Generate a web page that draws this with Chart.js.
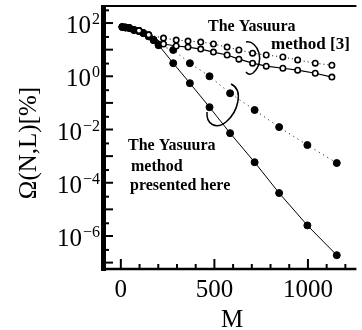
<!DOCTYPE html>
<html>
<head>
<meta charset="utf-8">
<script src="https://cdn.jsdelivr.net/npm/chart.js@4.4.0/dist/chart.umd.min.js"></script>
<style>
html, body { margin: 0; padding: 0; background: #fff; }
</style>
</head>
<body>
<canvas id="canvas" width="362" height="330"></canvas>
<script>
// M values and Omega(N,L) [%]
const mFilled = [8, 25, 45, 70, 97, 120, 149, 175, 202, 280, 369, 474, 584, 715, 846, 997, 1154];
const filledDotted = [71, 68, 65, 55, 50, 42, 32, 23, 14.8, 9.7, 3.1, 1.0, 0.23, 0.054, 0.0123, 2.6e-3, 5.5e-4];
const filledSolid = [71, 68, 65, 55, 50, 42, 32, 23, 14.8, 3.1, 0.55, 0.069, 7.3e-3, 5.9e-4, 4.1e-5, 2.5e-6, 1.9e-7];

const mOpen = [97, 149, 228, 296, 359, 427, 495, 568, 631, 704, 777, 866, 945, 1039, 1128];
const openDotted = [52, 36, 27.3, 23.0, 21.0, 19.3, 16.3, 12.5, 9.7, 7.4, 6.3, 5.3, 4.1, 3.1, 2.6];
const openSolid = [52, 36, 16.3, 13.7, 12.5, 10.5, 8.1, 6.3, 4.4, 3.1, 2.4, 2.0, 1.7, 1.3, 0.93];

const xTickLabels = [0, 500, 1000];
const yTickExps = [2, 0, -2, -4, -6];

function pts(xs, ys) {
    return xs.map(function (x, i) { return { x: x, y: ys[i] }; });
}

const serif = '"Liberation Serif", "DejaVu Serif", serif';

// axes, ticks, labels and notes drawn by hand
const frame = {
    id: 'frame',
    afterDraw: function (chart) {
        let ctx = chart.ctx;
        let a = chart.chartArea;
        let xs = chart.scales.x;
        let ys = chart.scales.y;
        ctx.save();
        ctx.strokeStyle = '#000';
        ctx.fillStyle = '#000';

        // top border
        ctx.lineWidth = 2;
        ctx.beginPath();
        ctx.moveTo(a.left, a.top);
        ctx.lineTo(a.right, a.top);
        ctx.stroke();
        // thick left axis
        ctx.fillRect(a.left - 3, a.top - 1, 5, a.bottom - a.top + 3);
        // bottom axis
        ctx.lineWidth = 2.5;
        ctx.beginPath();
        ctx.moveTo(a.left, a.bottom);
        ctx.lineTo(a.right, a.bottom);
        ctx.stroke();

        // y ticks (inside)
        ctx.lineWidth = 2;
        for (let e = -7; e <= 2; e++) {
            let y = ys.getPixelForValue(Math.pow(10, e));
            ctx.beginPath();
            ctx.moveTo(a.left, y);
            ctx.lineTo(a.left + 9, y);
            ctx.stroke();
            let y2 = ys.getPixelForValue(3 * Math.pow(10, e));
            if (y2 > a.top + 2 && y2 < a.bottom - 2) {
                ctx.beginPath();
                ctx.moveTo(a.left, y2);
                ctx.lineTo(a.left + 5, y2);
                ctx.stroke();
            }
        }
        // x ticks (inside)
        for (let v = 0; v <= 1200; v += 100) {
            let x = xs.getPixelForValue(v);
            let len = (v % 500 === 0) ? 10 : 5;
            ctx.beginPath();
            ctx.moveTo(x, a.bottom);
            ctx.lineTo(x, a.bottom - len);
            ctx.stroke();
        }

        // x labels
        ctx.font = '25px ' + serif;
        ctx.textAlign = 'center';
        ctx.textBaseline = 'alphabetic';
        xTickLabels.forEach(function (v) {
            ctx.fillText(String(v), xs.getPixelForValue(v), a.bottom + 28);
        });
        ctx.fillText('M', 232, 327);

        // y labels 10^e
        yTickExps.forEach(function (e) {
            let y = ys.getPixelForValue(Math.pow(10, e));
            let ex = (e < 0 ? '\u2212' : '') + Math.abs(e);
            ctx.font = '16px ' + serif;
            let w2 = ctx.measureText(ex).width;
            ctx.textAlign = 'left';
            ctx.fillText(ex, 100 - w2, y + 1);
            ctx.font = '25px ' + serif;
            let w1 = ctx.measureText('10').width;
            ctx.fillText('10', 100 - w2 - w1 - 1, y + 10);
        });

        // y title
        ctx.save();
        ctx.translate(36, 143);
        ctx.rotate(-Math.PI / 2);
        ctx.font = '25px ' + serif;
        ctx.textAlign = 'center';
        ctx.fillText('\u03A9(N,L)[%]', 0, 0);
        ctx.restore();

        // notes
        ctx.font = 'bold 16px ' + serif;
        ctx.textAlign = 'left';
        ctx.fillText('The Yasuura', 208, 31);
        ctx.fillText('The Yasuura', 128, 150);
        ctx.fillText('method', 131, 171);
        ctx.fillText('presented here', 130, 190);
        ctx.font = 'bold 17px ' + serif;
        ctx.fillText('method [3]', 271, 49);

        // brackets
        ctx.lineWidth = 1.5;
        ctx.beginPath();
        ctx.moveTo(246, 42);
        ctx.bezierCurveTo(258, 40, 266, 62, 253, 73);
        ctx.quadraticCurveTo(249, 76, 246, 72);
        ctx.stroke();
        ctx.beginPath();
        ctx.moveTo(231, 84);
        ctx.bezierCurveTo(244, 90, 238, 112, 226, 122);
        ctx.bezierCurveTo(216, 130, 206, 124, 207, 112);
        ctx.stroke();

        ctx.restore();
    }
};

let ctx = document.getElementById('canvas').getContext('2d');
new Chart(ctx, {
    type: 'line',
    data: {
        datasets: [{
            data: pts(mOpen, openDotted),
            borderColor: '#000',
            borderWidth: 1,
            borderDash: [1, 3],
            pointRadius: 2.7,
            pointBorderWidth: 1.6,
            pointBackgroundColor: '#fff',
            pointBorderColor: '#000'
        }, {
            data: pts(mOpen, openSolid),
            borderColor: '#000',
            borderWidth: 1.2,
            pointRadius: 2.7,
            pointBorderWidth: 1.6,
            pointBackgroundColor: '#fff',
            pointBorderColor: '#000'
        }, {
            data: pts(mFilled, filledDotted),
            borderColor: '#000',
            borderWidth: 1,
            borderDash: [1, 4],
            pointRadius: 3.5,
            pointBackgroundColor: '#000',
            pointBorderColor: '#000'
        }, {
            data: pts(mFilled, filledSolid),
            borderColor: '#000',
            borderWidth: 1,
            pointRadius: 3.5,
            pointBackgroundColor: '#000',
            pointBorderColor: '#000'
        }]
    },
    options: {
        responsive: false,
        devicePixelRatio: 1,
        animation: false,
        layout: { padding: { left: 104, top: 6, right: 0, bottom: 61 } },
        plugins: { legend: { display: false }, tooltip: { enabled: false } },
        scales: {
            x: { type: 'linear', min: -90, max: 1259, display: false },
            y: { type: 'logarithmic', min: Math.pow(10, -7.24), max: Math.pow(10, 2.64), display: false }
        }
    },
    plugins: [frame]
});
</script>
</body>
</html>
